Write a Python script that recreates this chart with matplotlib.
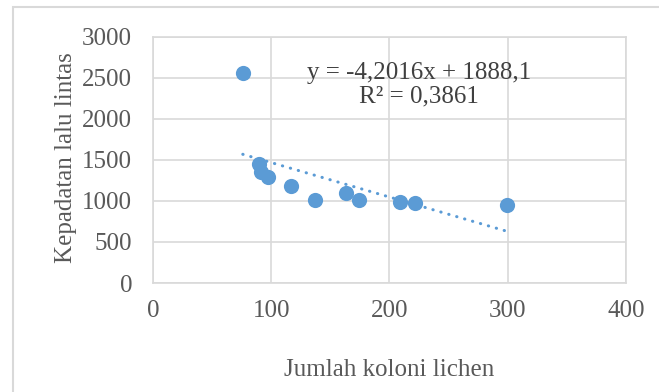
import numpy as np
import matplotlib
matplotlib.use("Agg")
import matplotlib.pyplot as plt
from matplotlib.patches import Rectangle

# --- data ---
koloni = [76, 90, 91.5, 97.5, 117, 137, 163, 174, 209, 221.5, 299.5]
kepadatan = [2565, 1445, 1350, 1295, 1178, 1012, 1095, 1010, 988, 972, 955]

# trendline as printed on the chart
trend_slope = -4.2016
trend_intercept = 1888.1
trend_label = "y = -4,2016x + 1888,1\nR² = 0,3861"

x_ticks = [0, 100, 200, 300, 400]
y_ticks = [0, 500, 1000, 1500, 2000, 2500, 3000]

# --- style ---
plt.rcParams["font.family"] = ["Liberation Serif", "DejaVu Serif"]
blue = "#5B9BD5"
grid_grey = "#D9D9D9"
text_grey = "#595959"
fs = 18

fig = plt.figure(figsize=(6.59, 3.92), dpi=100)
ax = fig.add_axes([0.232, 0.278, 0.718, 0.628])

# outer chart border (runs off the right/bottom of the image)
fig.patches.append(Rectangle((13 / 659, -0.1), 1.0, 1 - 7 / 392 + 0.1,
                             transform=fig.transFigure, fill=False,
                             edgecolor=grid_grey, lw=1.5))

ax.scatter(koloni, kepadatan, s=120, color=blue, zorder=3, linewidths=0)

tx = np.array([min(koloni), max(koloni)])
ax.plot(tx, trend_intercept + trend_slope * tx, color=blue, lw=2.2,
        linestyle=(0, (0.1, 2.6)), dash_capstyle="round", zorder=2)

ax.text(0.562, 0.805, trend_label, transform=ax.transAxes, ha="center",
        va="center", fontsize=fs, color="#404040", linespacing=1.05)

ax.set_xlim(0, 400)
ax.set_ylim(0, 3000)
ax.set_xticks(x_ticks)
ax.set_yticks(y_ticks)
ax.grid(True, color=grid_grey, lw=1.2)
ax.set_axisbelow(True)
for sp in ax.spines.values():
    sp.set_color(grid_grey)
    sp.set_linewidth(1.2)
ax.tick_params(length=0, labelsize=fs, labelcolor=text_grey)
ax.tick_params(axis="x", pad=12)
ax.tick_params(axis="y", pad=15)

ax.set_xlabel("Jumlah koloni lichen", fontsize=fs, color=text_grey, labelpad=27)
ax.set_ylabel("Kepadatan lalu lintas", fontsize=fs, color=text_grey)
ax.yaxis.set_label_coords(-0.160, 0.51)

fig.savefig("out.png", dpi=100)
